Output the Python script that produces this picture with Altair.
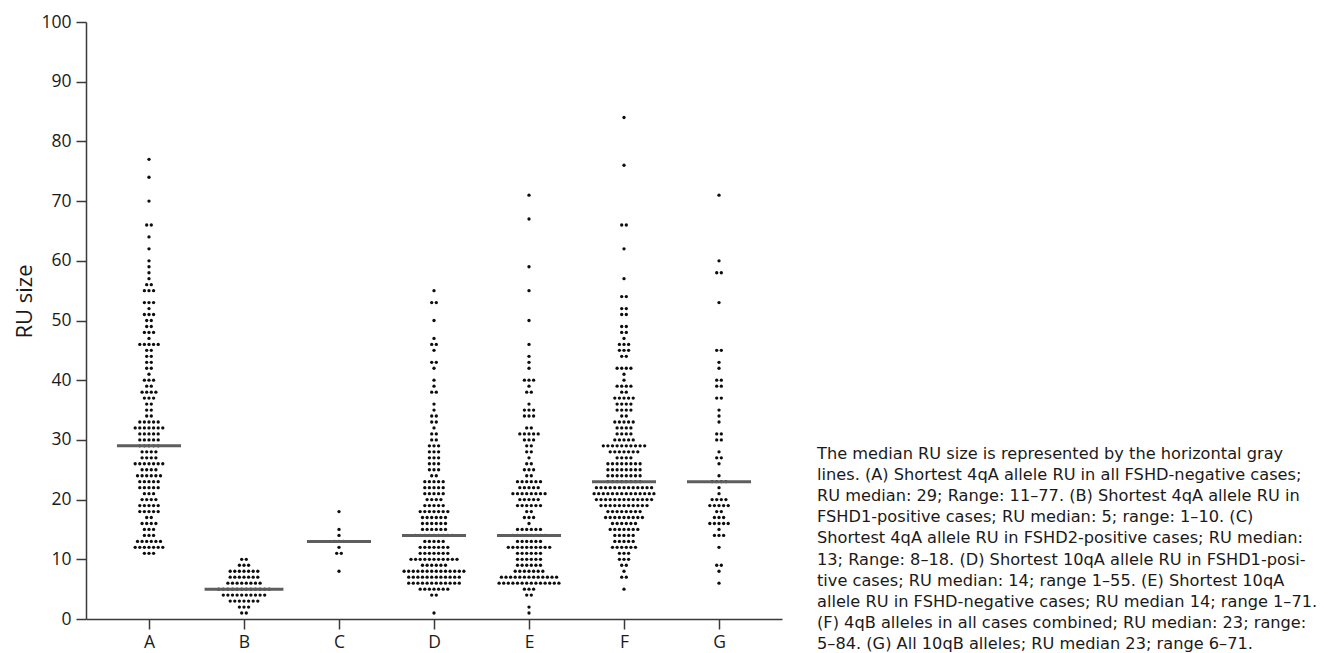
import altair as alt
import pandas as pd

# ---------------- data ----------------
groups = ["A", "B", "C", "D", "E", "F", "G"]

a_ru = [77, 74, 70, 66, 64, 62, 60, 59, 58, 57, 56, 55, 53, 52, 51, 50, 49, 48, 47, 46,
        45, 44, 43, 42, 41, 40, 39, 38, 37, 36, 35, 34, 33, 32, 31, 30, 29, 28, 27, 26,
        25, 24, 23, 22, 21, 20, 19, 18, 17, 16, 15, 14, 13, 12, 11]
a_n = [1, 1, 1, 2, 1, 1, 1, 1, 1, 1, 2, 3, 3, 1, 3, 2, 2, 3, 1, 5,
       2, 2, 2, 2, 1, 3, 2, 4, 3, 2, 2, 2, 5, 7, 5, 5, 5, 4, 4, 7,
       4, 6, 5, 5, 3, 4, 5, 5, 2, 4, 3, 3, 6, 7, 3]

b_ru = [10, 9, 8, 7, 6, 5, 4, 3, 2, 1]
b_n = [2, 3, 7, 7, 8, 12, 10, 7, 3, 2]

c_ru = [18, 15, 14, 13, 12, 11, 8]
c_n = [1, 1, 1, 3, 1, 2, 1]

d_ru = [55, 53, 50, 47, 46, 45, 43, 42, 40, 39, 38, 36, 35, 34, 33, 32, 31, 30, 29, 28,
        27, 26, 25, 24, 23, 22, 21, 20, 19, 18, 17, 16, 15, 14, 13, 12, 11, 10, 9, 8,
        7, 6, 5, 4, 1]
d_n = [1, 2, 1, 1, 2, 1, 2, 1, 1, 1, 2, 1, 1, 2, 2, 1, 2, 2, 3, 3,
       3, 3, 3, 2, 5, 5, 5, 4, 5, 7, 6, 6, 6, 9, 5, 7, 7, 11, 6, 14,
       12, 12, 7, 2, 1]

e_ru = [71, 67, 59, 55, 50, 46, 44, 43, 42, 40, 39, 38, 36, 35, 34, 32, 31, 30, 29, 28,
        27, 26, 25, 24, 23, 22, 21, 20, 19, 18, 17, 16, 15, 14, 13, 12, 11, 10, 9, 8,
        7, 6, 5, 4, 2, 1]
e_n = [1, 1, 1, 1, 1, 1, 1, 1, 1, 3, 1, 2, 1, 3, 3, 2, 5, 3, 2, 2,
       1, 2, 3, 2, 6, 5, 8, 5, 6, 2, 3, 1, 6, 8, 6, 10, 6, 6, 6, 7,
       13, 14, 3, 2, 1, 1]

f_ru = [84, 76, 66, 62, 57, 54, 52, 51, 49, 48, 47, 46, 45, 44, 42, 41, 40, 39, 38, 37,
        36, 35, 34, 33, 32, 31, 30, 29, 28, 27, 26, 25, 24, 23, 22, 21, 20, 19, 18, 17,
        16, 15, 14, 13, 12, 11, 10, 9, 8, 7, 5]
f_n = [1, 1, 2, 1, 1, 2, 2, 2, 2, 2, 1, 3, 3, 2, 4, 1, 1, 4, 2, 5,
       4, 4, 2, 5, 4, 4, 5, 10, 7, 4, 8, 8, 8, 8, 13, 14, 13, 11, 8, 9,
       6, 7, 5, 5, 6, 3, 3, 2, 1, 2, 1]

g_ru = [71, 60, 58, 53, 45, 43, 42, 40, 39, 37, 35, 34, 33, 31, 30, 28, 27, 26, 24, 23,
        22, 21, 20, 19, 18, 17, 16, 15, 14, 12, 9, 8, 6]
g_n = [1, 1, 2, 1, 2, 1, 1, 2, 2, 2, 1, 1, 1, 2, 2, 1, 2, 1, 1, 4,
       1, 1, 4, 5, 2, 3, 5, 1, 3, 1, 2, 1, 1]

medians = [29, 5, 13, 14, 14, 23, 23]

y_ticks = [0, 10, 20, 30, 40, 50, 60, 70, 80, 90, 100]

caption_lines = [
    "The median RU size is represented by the horizontal gray",
    "lines. (A) Shortest 4qA allele RU in all FSHD-negative cases;",
    "RU median: 29; Range: 11\u201377. (B) Shortest 4qA allele RU in",
    "FSHD1-positive cases; RU median: 5; range: 1\u201310. (C)",
    "Shortest 4qA allele RU in FSHD2-positive cases; RU median:",
    "13; Range: 8\u201318. (D) Shortest 10qA allele RU in FSHD1-posi-",
    "tive cases; RU median: 14; range 1\u201355. (E) Shortest 10qA",
    "allele RU in FSHD-negative cases; RU median 14; range 1\u201371.",
    "(F) 4qB alleles in all cases combined; RU median: 23; range:",
    "5\u201384. (G) All 10qB alleles; RU median 23; range 6\u201371.",
]

# ---------------- layout / style constants ----------------
W, H = 696, 597
PX_PER_GROUP = 95.0
X_PAD = 0.663
PITCH = 4.6 / PX_PER_GROUP          # horizontal spacing of dots in a row
MED_HALF = {"B": 0.415}             # half-length of median bars (group units)
MED_HALF_DEFAULT = 0.337
FONT = "Open Sans"
CAPTION_FONT = "DejaVu Sans"

series = [(a_ru, a_n), (b_ru, b_n), (c_ru, c_n), (d_ru, d_n),
          (e_ru, e_n), (f_ru, f_n), (g_ru, g_n)]

rows = []
for gi, (ru, ns) in enumerate(series):
    for v, k in zip(ru, ns):
        for i in range(k):
            rows.append({"group": groups[gi],
                         "pos": gi + (i - (k - 1) / 2.0) * PITCH,
                         "ru": v})
dots = pd.DataFrame(rows)

med = pd.DataFrame({
    "group": groups,
    "median": medians,
    "x0": [i - MED_HALF.get(g, MED_HALF_DEFAULT) for i, g in enumerate(groups)],
    "x1": [i + MED_HALF.get(g, MED_HALF_DEFAULT) for i, g in enumerate(groups)],
})

label_expr = "[" + ",".join("'%s'" % g for g in groups) + "][datum.value]"

x_scale = alt.Scale(domain=[-X_PAD, len(groups) - 1 + X_PAD], nice=False, zero=False)
y_scale = alt.Scale(domain=[0, 100], nice=False)

x_enc = alt.X("pos:Q", scale=x_scale,
              axis=alt.Axis(values=list(range(len(groups))), labelExpr=label_expr,
                            title=None, grid=False, labelPadding=4))
y_enc = alt.Y("ru:Q", scale=y_scale,
              axis=alt.Axis(values=y_ticks, title="RU size", grid=False,
                            titleFontSize=22, titleFontWeight="normal",
                            titleColor="#1a1a1a", titlePadding=4, labelPadding=5,
                            titleY=279))

points = alt.Chart(dots).mark_circle(size=11, color="#0d0d0d", opacity=1).encode(
    x=x_enc, y=y_enc)

rules = alt.Chart(med).mark_rule(color="#5e5e5e", strokeWidth=3).encode(
    x=alt.X("x0:Q", scale=x_scale), x2="x1:Q",
    y=alt.Y("median:Q", scale=y_scale))

caption = alt.Chart(pd.DataFrame({"k": [0]})).mark_text(
    align="left", baseline="top", font=CAPTION_FONT, fontSize=16.2, lineHeight=21.1,
    color="#1a1a1a").encode(
    x=alt.value(731), y=alt.value(424), text=alt.value(caption_lines))

chart = alt.layer(points, rules, caption).properties(
    width=W, height=H,
    padding={"left": 5, "top": 5, "right": 0, "bottom": 0},
).configure_view(stroke=None).configure_axis(
    domainColor="#3a3a3a", domainWidth=1.5, tickColor="#3a3a3a", tickWidth=1.5,
    tickSize=10, labelFont=FONT, labelFontSize=17.5, labelColor="#1a1a1a",
    titleFont=FONT,
)

chart.save("out.html", embed_options={"renderer": "svg", "actions": False})
